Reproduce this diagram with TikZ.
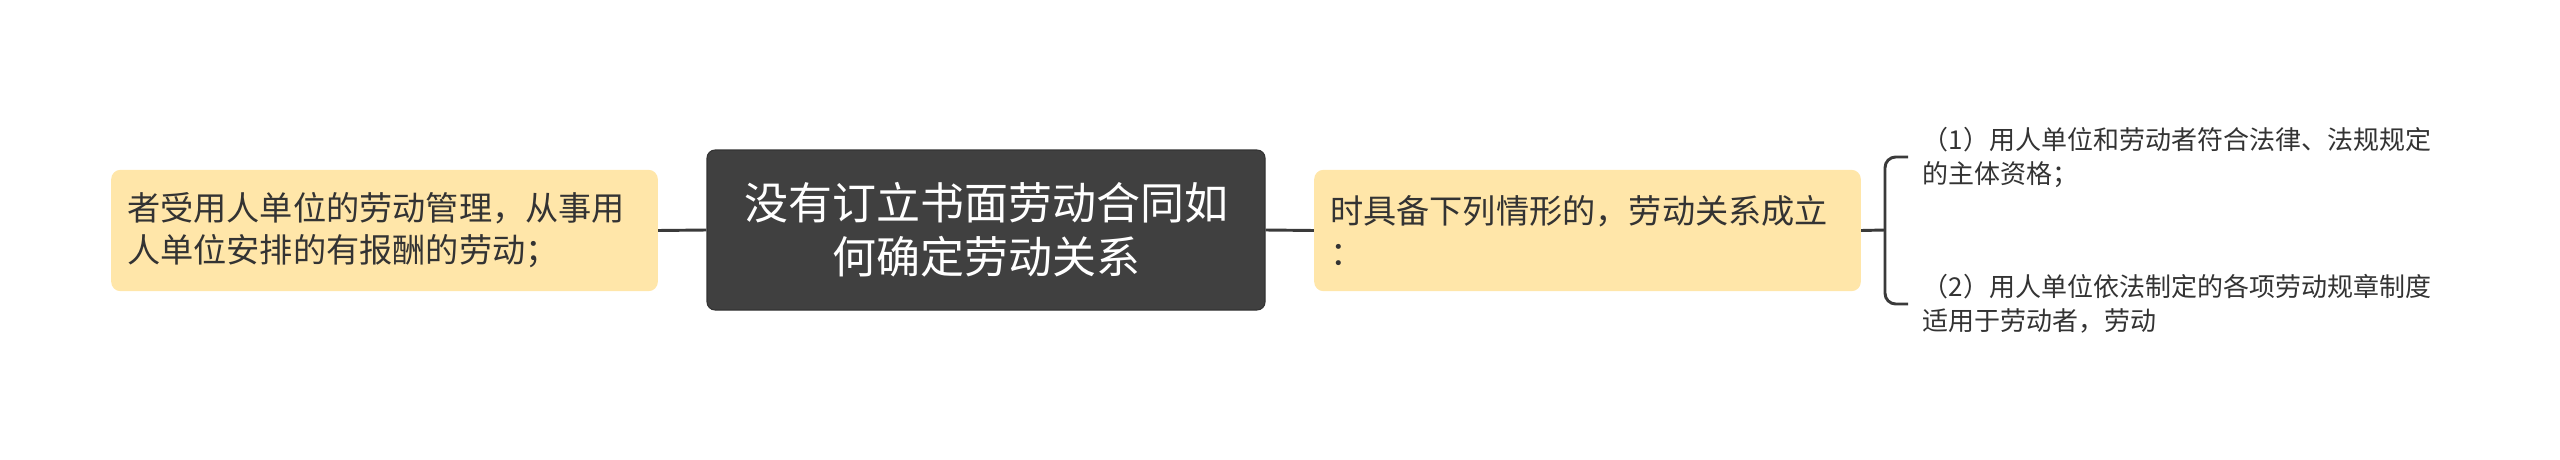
\documentclass[tikz,border=0pt]{standalone}
\usepackage{fontspec}
\setmainfont{Noto Sans CJK SC}
\usepackage{xcolor}
\definecolor{topicgray}{HTML}{404040}
\definecolor{branchyellow}{HTML}{FFE6A9}
\definecolor{linegray}{HTML}{3A3A3A}
\definecolor{textdark}{HTML}{333333}
\begin{document}
\begin{tikzpicture}[x=0.75pt,y=0.75pt,yscale=-1,xscale=1,
  topic/.style={fill=topicgray, draw=topicgray!80!black, line width=0.8pt, rounded corners=6pt, text=white, minimum width=418.5pt, minimum height=120pt, align=center, inner sep=0pt, font=\fontsize{33}{40.5}\selectfont},
  branch/.style={fill=branchyellow, rounded corners=7pt, text=textdark, minimum width=410pt, minimum height=91pt, text width=386pt, inner xsep=12pt, align=left, font=\fontsize{24.9}{31.5}\selectfont},
  leaf/.style={anchor=west, inner xsep=11pt, text width=390pt, align=left, text=textdark, font=\fontsize{19.5}{25.5}\selectfont},
  link/.style={draw=linegray, line width=2.2pt}]
%set diagram left start at 0, and has height of 460
\useasboundingbox (0,0) rectangle (2560,460);

% Text Node
\node [topic] (main) at (986,230) {没有订立书面劳动合同如\\何确定劳动关系};
% Text Node
\node [branch] (left) at (384.5,230.5) {者受用人单位的劳动管理，从事用\\人单位安排的有报酬的劳动；};
% Text Node
\node [branch] (right) at (1587.5,230.5) {时具备下列情形的，劳动关系成立\\：};
% Text Node
\node [leaf] (leafa) at (1908,157) {（1）用人单位和劳动者符合法律、法规规定\\的主体资格；};
% Text Node
\node [leaf] (leafb) at (1908,304) {（2）用人单位依法制定的各项劳动规章制度\\适用于劳动者，劳动};
\coordinate (fork) at (1885,230);

%Straight Lines
\draw [link] (left.east) -- (main.west);
%Straight Lines
\draw [link] (main.east) -- (right.west);
%Straight Lines
\draw [link] (right.east) -- (fork);
%Bracket
\draw [link, rounded corners=8pt] (leafa.west) -| (fork) |- (leafb.west);

\end{tikzpicture}
\end{document}
